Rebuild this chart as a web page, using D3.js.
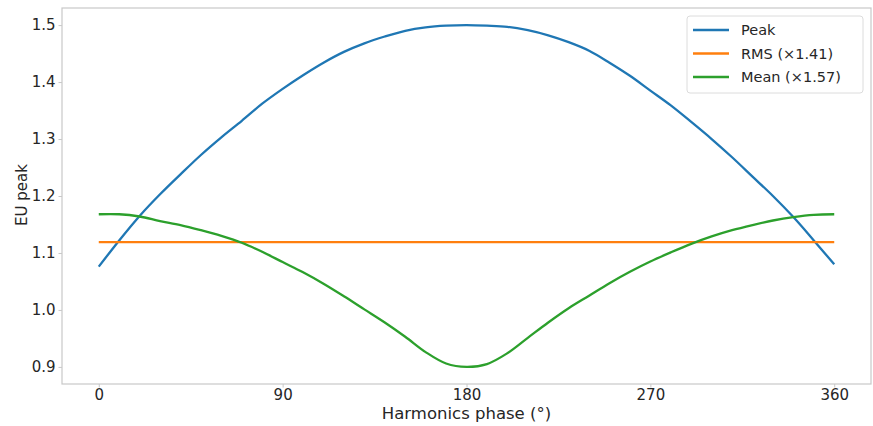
<!DOCTYPE html>
<html>
<head>
<meta charset="utf-8">
<script src="https://cdn.jsdelivr.net/npm/d3@7"></script>
<style>
  body { margin: 0; background: #fff; }
  text { font-family: "DejaVu Sans", sans-serif; fill: #262626; }
</style>
</head>
<body>
<svg class="chart"></svg>
<script>
// harmonics phase in degrees, 10 degree steps
const phase = d3.range(0, 361, 10)
const peak = [1.076, 1.122, 1.165, 1.203, 1.238, 1.272, 1.303, 1.332, 1.362, 1.388,
  1.412, 1.434, 1.453, 1.468, 1.480, 1.490, 1.496, 1.499, 1.500,
  1.499, 1.497, 1.491, 1.482, 1.470, 1.455, 1.434, 1.411, 1.385, 1.359,
  1.330, 1.300, 1.268, 1.234, 1.200, 1.163, 1.122, 1.080]
const rms = phase.map(() => 1.119)
const mean = [1.168, 1.168, 1.164, 1.156, 1.149, 1.140, 1.130, 1.118, 1.102, 1.084,
  1.066, 1.046, 1.024, 1.001, 0.978, 0.953, 0.926, 0.906, 0.900,
  0.905, 0.924, 0.951, 0.978, 1.003, 1.025, 1.047, 1.067, 1.085, 1.101,
  1.116, 1.129, 1.140, 1.149, 1.157, 1.163, 1.167, 1.168]
const xTicks = [0, 90, 180, 270, 360]
const yTicks = [0.9, 1.0, 1.1, 1.2, 1.3, 1.4, 1.5]
const seriesNames = ['Peak', 'RMS (\u00d71.41)', 'Mean (\u00d71.57)']
const colors = ['#1f77b4', '#ff7f0e', '#2ca02c']

const width = 873
const height = 426
const plotLeft = 62, plotRight = 871, plotTop = 8, plotBottom = 384

const svg = d3.select('.chart')
  .attr('width', width)
  .attr('height', height)

const x = d3.scaleLinear().domain([-18, 378]).range([plotLeft, plotRight])
const y = d3.scaleLinear().domain([0.87, 1.53]).range([plotBottom, plotTop])

// frame
svg.append('rect')
  .attr('x', plotLeft)
  .attr('y', plotTop)
  .attr('width', plotRight - plotLeft)
  .attr('height', plotBottom - plotTop)
  .attr('fill', 'none')
  .attr('stroke', '#c8c8c8')
  .attr('stroke-width', 1.2)

const xAxis = d3.axisBottom(x).tickValues(xTicks).tickSize(3.5).tickPadding(2)
const yAxis = d3.axisLeft(y).tickValues(yTicks).tickSize(3.5).tickPadding(3)
  .tickFormat(d3.format('.1f'))

const xg = svg.append('g')
  .attr('transform', `translate(0,${plotBottom})`)
  .call(xAxis)
const yg = svg.append('g')
  .attr('transform', `translate(${plotLeft},0)`)
  .call(yAxis)

;[xg, yg].forEach(g => {
  g.select('.domain').remove()
  g.selectAll('line').attr('stroke', '#c8c8c8')
  g.selectAll('text').style('font-size', '15px').attr('fill', '#262626')
})

svg.append('text')
  .attr('x', x(180))
  .attr('y', 419)
  .attr('text-anchor', 'middle')
  .style('font-size', '16.5px')
  .text('Harmonics phase (\u00b0)')

svg.append('text')
  .attr('transform', 'translate(27,195) rotate(-90)')
  .attr('text-anchor', 'middle')
  .style('font-size', '15px')
  .text('EU peak')

const line = d3.line()
  .x((d, i) => x(phase[i]))
  .y(d => y(d))
  .curve(d3.curveCatmullRom)

svg.selectAll('.series')
  .data([peak, rms, mean])
  .enter()
  .append('path')
  .attr('class', 'series')
  .attr('d', d => line(d))
  .attr('fill', 'none')
  .attr('stroke', (d, i) => colors[i])
  .attr('stroke-width', 2.3)

// legend
const legend = svg.append('g').attr('transform', 'translate(687,16)')
legend.append('rect')
  .attr('width', 176)
  .attr('height', 77)
  .attr('rx', 3)
  .attr('fill', '#fff')
  .attr('fill-opacity', 0.8)
  .attr('stroke', '#dcdcdc')

const rows = legend.selectAll('.row')
  .data(seriesNames)
  .enter()
  .append('g')
  .attr('transform', (d, i) => `translate(0,${14 + i * 23.5})`)

rows.append('line')
  .attr('x1', 6)
  .attr('x2', 42)
  .attr('stroke', (d, i) => colors[i])
  .attr('stroke-width', 2.3)

rows.append('text')
  .attr('x', 54)
  .attr('dy', '0.35em')
  .style('font-size', '14.5px')
  .text(d => d)
</script>
</body>
</html>
